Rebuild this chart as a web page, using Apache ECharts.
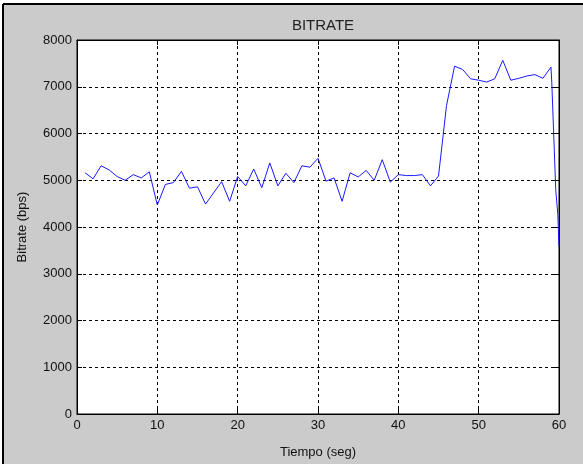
<!DOCTYPE html>
<html>
<head>
<meta charset="utf-8">
<script src="https://cdn.jsdelivr.net/npm/echarts@6/dist/echarts.min.js"></script>
<style>
html,body{margin:0;padding:0;background:#fff;}
#c{width:583px;height:464px;}
</style>
</head>
<body>
<div id="c"></div>
<script>
// Data
var chartTitle = 'BITRATE';
var xName = 'Tiempo (seg)';
var yName = 'Bitrate (bps)';
var xTicks = [0, 10, 20, 30, 40, 50, 60];
var yTicks = [0, 1000, 2000, 3000, 4000, 5000, 6000, 7000, 8000];
var tiempo = [1,2,3,4,5,6,7,8,9,10,11,12,13,14,15,16,17,18,19,20,
  21,22,23,24,25,26,27,28,29,30,31,32,33,34,35,36,37,38,39,40,
  41,42,43,44,45,46,47,48,49,50,51,52,53,54,55,56,57,58,59,59.1,59.6,59.85,60];
var bitrate = [5160,5030,5310,5220,5080,5000,5120,5050,5180,4470,
  4910,4950,5190,4830,4860,4490,4730,4970,4550,5080,
  4880,5240,4840,5370,4880,5150,4950,5310,5280,5470,
  4980,5050,4550,5160,5070,5210,5000,5440,4960,5120,
  5100,5100,5120,4880,5090,6600,7440,7370,7170,7140,
  7100,7170,7565,7140,7180,7230,7260,7180,7420,7100,4780,4280,3580];

var seriesData = tiempo.map(function (t, i) { return [t, bitrate[i]]; });
var font = 'Liberation Sans, Arial, sans-serif';
function plain(v) { return String(v); }

var chart = echarts.init(document.getElementById('c'), null, {renderer: 'canvas'});
var gridLine = {show: true, lineStyle: {color: '#000', type: [3, 3], width: 1}};
var common = {
  axisLine: {show: true, onZero: false, lineStyle: {color: '#000', width: 1}},
  axisTick: {show: true, inside: true, length: 5, lineStyle: {color: '#000'}}
};
chart.setOption({
  animation: false,
  backgroundColor: '#fff',
  graphic: [
    {type: 'rect', shape: {x: 3, y: 4, width: 580, height: 460}, style: {fill: '#cbcbcb'}, z: -10, silent: true},
    {type: 'line', shape: {x1: 3, y1: 4, x2: 583, y2: 4}, style: {stroke: '#000', lineWidth: 2}, z: -9},
    {type: 'line', shape: {x1: 3, y1: 4, x2: 3, y2: 464}, style: {stroke: '#000', lineWidth: 2}, z: -9}
  ],
  title: {
    text: chartTitle, left: 318, top: 13, textAlign: 'center',
    textStyle: {fontFamily: font, fontSize: 15, fontWeight: 'normal', color: '#222'}
  },
  grid: {left: 77, right: 24, top: 40, bottom: 44, show: true, backgroundColor: '#fff', borderColor: '#000', borderWidth: 1},
  xAxis: [
    Object.assign({
      type: 'value', min: xTicks[0], max: xTicks[xTicks.length - 1], interval: xTicks[1] - xTicks[0],
      name: xName, nameLocation: 'middle', nameGap: 32,
      nameTextStyle: {fontFamily: font, fontSize: 13, color: '#111'},
      axisLabel: {fontFamily: font, fontSize: 13, color: '#111', margin: 5, formatter: plain},
      splitLine: gridLine
    }, common),
    Object.assign({
      type: 'value', position: 'top', min: xTicks[0], max: xTicks[xTicks.length - 1], interval: xTicks[1] - xTicks[0],
      axisLabel: {show: false}, splitLine: {show: false}
    }, common)
  ],
  yAxis: [
    Object.assign({
      type: 'value', min: yTicks[0], max: yTicks[yTicks.length - 1], interval: yTicks[1] - yTicks[0],
      name: yName, nameLocation: 'middle', nameGap: 48, nameRotate: 90,
      nameTextStyle: {fontFamily: font, fontSize: 13, color: '#111'},
      axisLabel: {fontFamily: font, fontSize: 13, color: '#111', margin: 5, formatter: plain},
      splitLine: gridLine
    }, common),
    Object.assign({
      type: 'value', position: 'right', min: yTicks[0], max: yTicks[yTicks.length - 1], interval: yTicks[1] - yTicks[0],
      axisLabel: {show: false}, splitLine: {show: false}
    }, common)
  ],
  series: [{
    type: 'line', data: seriesData, showSymbol: false, symbol: 'none',
    lineStyle: {color: '#1a1aff', width: 1}, z: 5
  }]
});
</script>
</body>
</html>
